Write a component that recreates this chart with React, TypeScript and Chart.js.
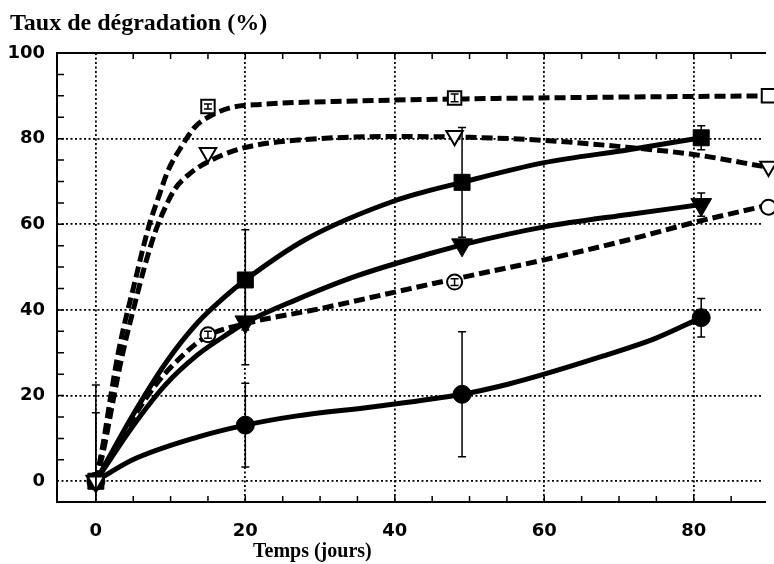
import React, { useEffect, useRef } from "react";
import { Chart, registerables } from "chart.js";

Chart.register(...registerables);

// ---- data ----
const xTicks = [0, 20, 40, 60, 80];
const yTicks = [0, 20, 40, 60, 80, 100];
const xMinorTicks = [5, 10, 15, 20, 25, 30, 35, 40, 45, 50, 55, 60, 65, 70, 75, 80, 85];
const yMinorTicks = [5, 10, 15, 20, 25, 30, 35, 40, 45, 50, 55, 60, 65, 70, 75, 80, 85, 90, 95];

const dayOpen = [0, 15, 48, 90];
const dayFilled = [0, 20, 49, 81];

const openSquare = [0, 87.5, 89.5, 90];
const openSquareErr = [0, 0.6, 0.9, 0];
const openTriangle = [0, 76.7, 80.7, 73.5];
const openTriangleErr = [0, 0, 0, 0];
const openCircle = [0, 34.2, 46.5, 64];
const openCircleErr = [0, 0.8, 0.8, 0];

const filledSquare = [0, 47, 69.8, 80.2];
const filledSquareErr = [22.5, 11.7, 12.8, 2.8];
const filledTriangle = [0, 37.2, 55.2, 64.6];
const filledTriangleErr = [16, 10, 0, 2.7];
const filledCircle = [0, 13.1, 20.3, 38.2];
const filledCircleErr = [0, 9.8, 14.6, 4.5];

// fitted curves as drawn in the reference
const openSquareFitX = [0, 1, 2, 3, 4, 5, 7, 8.4, 9.7, 11.4, 13.2, 15, 18, 22, 35, 50, 70, 90];
const openSquareFitY = [0, 9, 20, 30, 38, 45, 59, 66.4, 72.7, 78, 82.6, 85, 87.2, 88, 88.8, 89.3, 89.7, 90];
const openTriangleFitX = [0, 1, 2, 3, 4, 5, 6.5, 8, 9.3, 10.6, 12.7, 15, 18.5, 21.5, 28, 40, 50, 60, 71, 80, 90];
const openTriangleFitY = [0, 7, 16, 25, 33, 40, 50, 58.5, 64, 68.3, 72, 74.6, 77.2, 78.5, 79.8, 80.5, 80.3, 79.6, 78, 76.3, 73.3];
const openCircleFitX = [0, 4, 8, 12, 15, 20, 30, 45.5, 60, 71.3, 80, 90];
const openCircleFitY = [0, 12, 22.5, 30, 34, 36.8, 40.3, 46.3, 51.7, 56.4, 60.4, 64.5];
const filledSquareFitX = [0, 4.8, 9.3, 13.6, 17.2, 20, 28, 40, 49, 60, 71.3, 81];
const filledSquareFitY = [0, 15, 27.5, 37, 43, 47, 56.4, 65.5, 69.8, 74.4, 77.4, 80.2];
const filledTriangleFitX = [0, 4.8, 9.3, 13.6, 18, 20, 26.7, 35, 45, 49, 60, 71.3, 81];
const filledTriangleFitY = [0, 12.5, 22.5, 29.5, 34.8, 37, 42.3, 48, 53.3, 55.2, 59.4, 62.3, 64.6];
const filledCircleFitX = [0, 4.8, 13.6, 20, 26.7, 37.2, 49, 55, 60, 67.8, 74.8, 81];
const filledCircleFitY = [0, 4.9, 10.3, 13.1, 15.2, 17.4, 20.3, 22.6, 25, 29.2, 33.3, 38.2];

const yTitle = "Taux de dégradation (%)";
const xTitle = "Temps (jours)";

const pts = (xs: number[], ys: number[]) => xs.map((x, i) => ({ x, y: ys[i] }));

const errorSeries = [
  { xs: dayOpen, ys: openSquare, errs: openSquareErr },
  { xs: dayOpen, ys: openTriangle, errs: openTriangleErr },
  { xs: dayOpen, ys: openCircle, errs: openCircleErr },
  { xs: dayFilled, ys: filledSquare, errs: filledSquareErr },
  { xs: dayFilled, ys: filledTriangle, errs: filledTriangleErr },
  { xs: dayFilled, ys: filledCircle, errs: filledCircleErr },
];

const decorPlugin = {
  id: "decor",
  afterDatasetsDraw(chart: any) {
    const { ctx, chartArea: a, scales } = chart;
    const xs = scales.x;
    const ys = scales.y;
    ctx.save();
    ctx.beginPath();
    ctx.rect(a.left, a.top, a.right - a.left, a.bottom - a.top);
    ctx.clip();
    ctx.strokeStyle = "#000";
    ctx.lineWidth = 1.5;
    ctx.setLineDash([]);
    errorSeries.forEach((s) => {
      s.xs.forEach((xv, i) => {
        const e = s.errs[i];
        if (!e) return;
        const px = xs.getPixelForValue(xv);
        const top = ys.getPixelForValue(s.ys[i] + e);
        const bot = ys.getPixelForValue(s.ys[i] - e);
        ctx.beginPath();
        ctx.moveTo(px, top);
        ctx.lineTo(px, bot);
        ctx.moveTo(px - 4, top);
        ctx.lineTo(px + 4, top);
        ctx.moveTo(px - 4, bot);
        ctx.lineTo(px + 4, bot);
        ctx.stroke();
      });
    });
    ctx.restore();
  },
  afterDraw(chart: any) {
    const { ctx, chartArea: a, scales } = chart;
    const xs = scales.x;
    const ys = scales.y;
    ctx.save();
    ctx.strokeStyle = "#000";
    ctx.lineWidth = 2;
    ctx.setLineDash([]);
    ctx.beginPath();
    ctx.moveTo(a.right + 5, a.top);
    ctx.lineTo(a.left, a.top);
    ctx.lineTo(a.left, a.bottom);
    ctx.lineTo(a.right + 5, a.bottom);
    ctx.stroke();
    ctx.lineWidth = 1.5;
    ctx.beginPath();
    xMinorTicks.forEach((v) => {
      const p = xs.getPixelForValue(v);
      ctx.moveTo(p, a.bottom);
      ctx.lineTo(p, a.bottom - 6);
      ctx.moveTo(p, a.top);
      ctx.lineTo(p, a.top + 6);
    });
    yMinorTicks.forEach((v) => {
      const p = ys.getPixelForValue(v);
      ctx.moveTo(a.left, p);
      ctx.lineTo(a.left + 7, p);
    });
    ctx.stroke();
    ctx.fillStyle = "#000";
    ctx.textBaseline = "alphabetic";
    ctx.textAlign = "left";
    ctx.font = 'bold 24px "Liberation Serif"';
    ctx.fillText(yTitle, 10, 30);
    ctx.font = 'bold 20px "Liberation Serif"';
    ctx.fillText(xTitle, 253, 557);
    ctx.restore();
  },
};

export default function App() {
  const ref = useRef<HTMLCanvasElement>(null);
  useEffect(() => {
    const markerBase = { type: "scatter" as const, showLine: false, clip: false as any };
    const fitBase = {
      type: "line" as const,
      pointRadius: 0,
      borderColor: "#000",
      borderWidth: 5,
      cubicInterpolationMode: "monotone" as const,
      fill: false,
      clip: false as any,
      borderCapStyle: "butt" as const,
    };
    const dashed = [11, 5];
    const gridDash = [2, 2.5];
    const chart = new Chart(ref.current as HTMLCanvasElement, {
      type: "scatter",
      data: {
        datasets: [
          { ...markerBase, label: "open triangle", data: pts(dayOpen, openTriangle), pointStyle: "triangle", rotation: 180, radius: 9.5, backgroundColor: "#fff", borderColor: "#000", borderWidth: 2 } as any,
          { ...markerBase, label: "filled square", data: pts(dayFilled, filledSquare), pointStyle: "rect", radius: 11.3, backgroundColor: "#000", borderColor: "#000", borderWidth: 1 } as any,
          { ...markerBase, label: "filled triangle", data: pts(dayFilled, filledTriangle), pointStyle: "triangle", rotation: 180, radius: 12, backgroundColor: "#000", borderColor: "#000", borderWidth: 1 } as any,
          { ...markerBase, label: "filled circle", data: pts(dayFilled, filledCircle), pointStyle: "circle", radius: 9, backgroundColor: "#000", borderColor: "#000", borderWidth: 1 } as any,
          { ...markerBase, label: "open square", data: pts(dayOpen, openSquare), pointStyle: "rect", radius: 9.5, backgroundColor: "#fff", borderColor: "#000", borderWidth: 2 } as any,
          { ...markerBase, label: "open circle", data: pts(dayOpen, openCircle), pointStyle: "circle", radius: 7.5, backgroundColor: "#fff", borderColor: "#000", borderWidth: 2 } as any,
          { ...fitBase, label: "fit open square", data: pts(openSquareFitX, openSquareFitY), borderDash: dashed } as any,
          { ...fitBase, label: "fit open triangle", data: pts(openTriangleFitX, openTriangleFitY), borderDash: dashed } as any,
          { ...fitBase, label: "fit open circle", data: pts(openCircleFitX, openCircleFitY), borderDash: dashed } as any,
          { ...fitBase, label: "fit filled square", data: pts(filledSquareFitX, filledSquareFitY) } as any,
          { ...fitBase, label: "fit filled triangle", data: pts(filledTriangleFitX, filledTriangleFitY) } as any,
          { ...fitBase, label: "fit filled circle", data: pts(filledCircleFitX, filledCircleFitY) } as any,
        ],
      },
      options: {
        responsive: false,
        animation: false,
        devicePixelRatio: 1,
        layout: { padding: { top: 53, left: 0, right: 0, bottom: 0 } },
        plugins: { legend: { display: false }, tooltip: { enabled: false }, title: { display: false } },
        scales: {
          x: {
            type: "linear",
            min: -5.2,
            max: 89,
            afterBuildTicks: (s: any) => {
              s.ticks = xTicks.map((v) => ({ value: v }));
            },
            afterFit: (s: any) => {
              s.height = 62;
            },
            grid: { color: "#000", lineWidth: 1.8, drawTicks: false, borderDash: gridDash } as any,
            border: { display: false, dash: gridDash },
            ticks: { color: "#000", font: { family: "DejaVu Sans", size: 18, weight: "bold" }, padding: 19, maxRotation: 0, autoSkip: false },
          },
          y: {
            type: "linear",
            min: -4.85,
            max: 100,
            afterBuildTicks: (s: any) => {
              s.ticks = yTicks.map((v) => ({ value: v }));
            },
            afterFit: (s: any) => {
              s.width = 57;
            },
            grid: { color: "#000", lineWidth: 1.8, drawTicks: false, borderDash: gridDash } as any,
            border: { display: false, dash: gridDash },
            ticks: { color: "#000", font: { family: "DejaVu Sans", size: 18, weight: "bold" }, padding: 12, autoSkip: false },
          },
        },
      },
      plugins: [decorPlugin],
    } as any);
    return () => chart.destroy();
  }, []);
  return (
    <div style={{ position: "absolute", left: 0, top: 0, width: 774, height: 564, background: "#fff" }}>
      <canvas ref={ref} width={774} height={564} style={{ display: "block" }} />
    </div>
  );
}
